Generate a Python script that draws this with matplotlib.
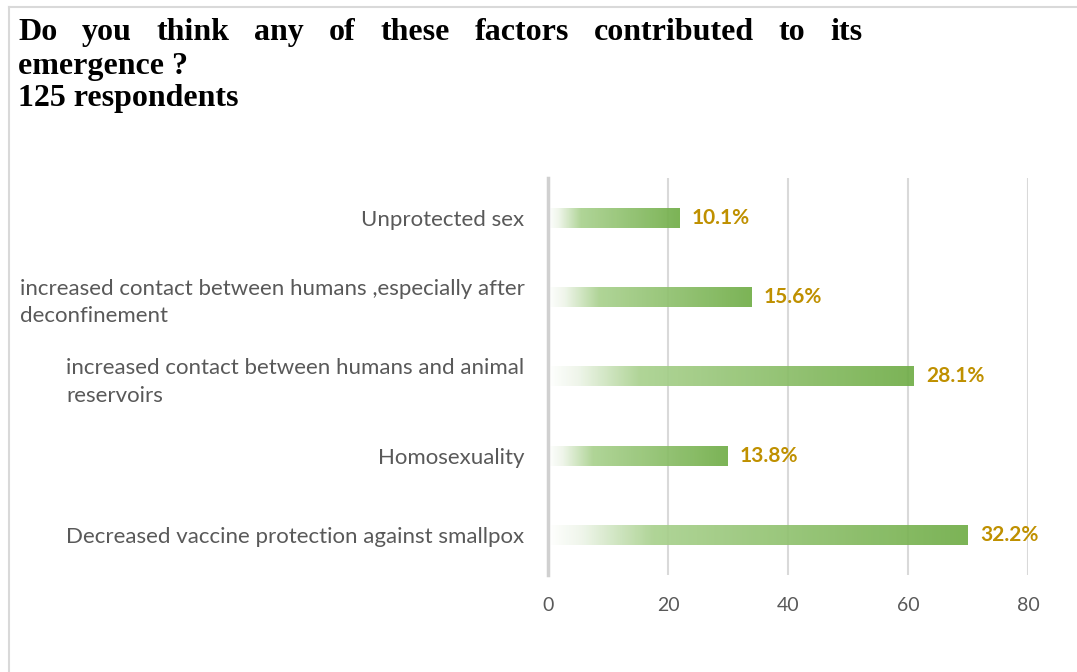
import numpy as np
import matplotlib.pyplot as plt
from matplotlib.colors import LinearSegmentedColormap
from matplotlib.lines import Line2D

# survey answers, listed bottom to top
factors = [
    "Decreased vaccine protection against smallpox",
    "Homosexuality",
    "increased contact between humans and animal\nreservoirs",
    "increased contact between humans ,especially after\ndeconfinement",
    "Unprotected sex",
]
counts = [70, 30, 61, 34, 22]
percents = [32.2, 13.8, 28.1, 15.6, 10.1]
xticks = [0, 20, 40, 60, 80]

title_line1 = "Do you think any of these factors contributed to its"
title_line2 = "emergence ?"
title_line3 = "125 respondents"

W, H = 1077, 672
fig = plt.figure(figsize=(W / 100, H / 100), dpi=100)
ax = fig.add_axes([548 / W, 1 - 575 / H, (1028 - 548) / W, (575 - 178) / H])

green = LinearSegmentedColormap.from_list(
    "green_fade",
    [(0.0, "#ffffff"), (0.08, "#eef5e9"), (0.25, "#a9d18e"), (1.0, "#70ad47")],
)
grad = np.linspace(0, 1, 256).reshape(1, -1)

bar_h = 0.25
for i, (c, p) in enumerate(zip(counts, percents)):
    ax.imshow(grad, cmap=green, aspect="auto", alpha=0.92,
              extent=[0, c, i - bar_h / 2, i + bar_h / 2], zorder=2)
    ax.text(c + 2, i, f"{p:.1f}%", va="center", ha="left",
            fontsize=15, fontweight="bold", color="#bf9000",
            family="Lato", zorder=3)

ax.set_xlim(0, 80)
ax.set_ylim(-0.5, len(factors) - 0.5)
ax.set_xticks(xticks)
ax.set_yticks(range(len(factors)))
ax.set_yticklabels(factors)
for lbl in ax.get_yticklabels():
    lbl.set_multialignment("left")
    lbl.set_linespacing(1.45)
ax.tick_params(axis="y", length=0, pad=17, labelsize=16, labelcolor="#595959")
ax.tick_params(axis="x", length=0, pad=16, labelsize=14, labelcolor="#595959")
for lbl in ax.get_xticklabels() + ax.get_yticklabels():
    lbl.set_family("Lato")

ax.grid(axis="x", color="#d9d9d9", lw=1.5, zorder=1)
ax.set_axisbelow(True)
for s in ["top", "right", "bottom"]:
    ax.spines[s].set_visible(False)
ax.spines["left"].set_color("#d0d0d0")
ax.spines["left"].set_linewidth(2.5)
ax.spines["left"].set_zorder(4)

# outer frame (top and left edges)
fig.add_artist(Line2D([9 / W, 1], [1 - 7 / H, 1 - 7 / H], color="#d9d9d9", lw=1.5))
fig.add_artist(Line2D([9 / W, 9 / W], [0, 1 - 7 / H], color="#d9d9d9", lw=1.5))

# title, first line justified across the block
title_kw = dict(family="Liberation Serif", fontweight="bold", fontsize=23,
                color="black", va="baseline", ha="left")
x0, x1 = 18, 862
words = title_line1.split()
fig.canvas.draw()
r = fig.canvas.get_renderer()
texts = [fig.text(0, 1 - 40 / H, w, **title_kw) for w in words]
widths = [t.get_window_extent(r).width for t in texts]
gap = (x1 - x0 - sum(widths)) / (len(words) - 1)
x = x0
for t, w in zip(texts, widths):
    t.set_x(x / W)
    x += w + gap
fig.text(x0 / W, 1 - 74 / H, title_line2, **title_kw)
fig.text(x0 / W, 1 - 106 / H, title_line3, **title_kw)

fig.savefig("out.png", dpi=100, facecolor="white")
